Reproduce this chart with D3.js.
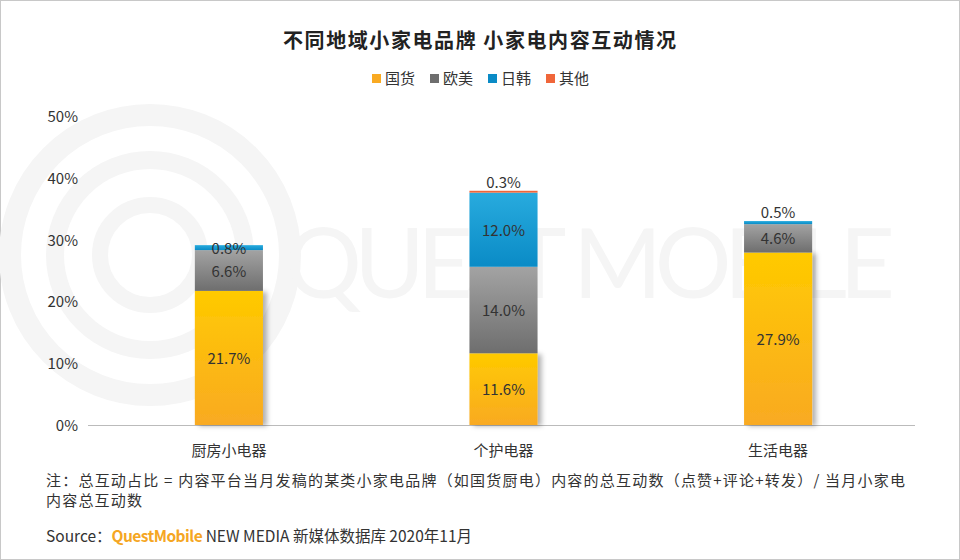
<!DOCTYPE html>
<html><head><meta charset="utf-8">
<script src="https://cdn.jsdelivr.net/npm/d3@7"></script>
<style>body{margin:0;background:#fff}svg{display:block;font-family:"Microsoft YaHei","Noto Sans CJK SC",sans-serif}</style>
</head><body><svg id="c" width="960" height="560"></svg>
<script>
// data
const categories = ["厨房小电器", "个护电器", "生活电器"]
const seriesNames = ["国货", "欧美", "日韩", "其他"]
const guohuo = [21.7, 11.6, 27.9]
const oumei = [6.6, 14.0, 4.6]
const rihan = [0.8, 12.0, 0.5]
const qita = [0, 0.3, 0]
const yTicks = [0, 10, 20, 30, 40, 50]

const svg = d3.select("#c")
svg.append("rect").attr("x", 0.5).attr("y", 0.5).attr("width", 959).attr("height", 559)
  .attr("fill", "#fff").attr("stroke", "#c8c8c8")

const defs = svg.append("defs")
const grads = [["#ffca00", "#f9aa22"], ["#a3a3a3", "#6e6e6e"], ["#28abde", "#0a8bc6"], ["#f0663a", "#f0663a"]]
grads.forEach((g, i) => {
  const lg = defs.append("linearGradient").attr("id", "g" + i).attr("x1", 0).attr("x2", 0).attr("y1", 0).attr("y2", 1)
  lg.append("stop").attr("offset", "0%").attr("stop-color", g[0])
  lg.append("stop").attr("offset", "100%").attr("stop-color", g[1])
})
const f = defs.append("filter").attr("id", "sh").attr("x", "-20%").attr("width", "150%")
f.append("feDropShadow").attr("dx", 4).attr("dy", 1).attr("stdDeviation", 2.5).attr("flood-color", "#000").attr("flood-opacity", 0.3)

// watermark
const wm = svg.append("g").attr("fill", "none").attr("stroke", "#f5f5f5")
;[[140, 22], [95, 18], [50, 16]].forEach(([r, w]) => wm.append("circle").attr("cx", 150).attr("cy", 255).attr("r", r).attr("stroke-width", w))
svg.append("text").attr("x", 285).attr("y", 298).attr("font-size", 96).attr("font-family", "Lato, sans-serif")
  .attr("font-weight", 400).attr("fill", "#f5f5f5").attr("textLength", 610).text("QUEST MOBILE")

svg.append("text").attr("x", 283).attr("y", 48).attr("font-size", 20).attr("textLength", 393)
  .attr("font-weight", 700).attr("fill", "#222").text("不同地域小家电品牌 小家电内容互动情况")

// legend
const lx = [372, 430, 488, 546]
seriesNames.forEach((s, i) => {
  svg.append("rect").attr("x", lx[i]).attr("y", 74).attr("width", 9).attr("height", 9).attr("fill", grads[i][1])
  svg.append("text").attr("x", lx[i] + 13).attr("y", 84).attr("font-size", 15).attr("fill", "#333").text(s)
})

const x = d3.scaleBand().domain(categories).range([85, 922]).paddingInner(0.752).paddingOuter(0.4)
const y = d3.scaleLinear().domain([0, 50]).range([425, 116])

svg.append("g").selectAll("text").data(yTicks).join("text")
  .attr("x", 78).attr("y", d => y(d) + 6).attr("text-anchor", "end").attr("font-size", 15).attr("fill", "#333")
  .text(d => d + "%")
svg.append("line").attr("x1", 88).attr("x2", 915).attr("y1", 425.5).attr("y2", 425.5).attr("stroke", "#bbb")
svg.append("g").selectAll("text").data(categories).join("text")
  .attr("x", d => x(d) + x.bandwidth() / 2).attr("y", 456).attr("text-anchor", "middle")
  .attr("font-size", 15).attr("fill", "#333").text(d => d)

const stackData = categories.map((c, i) => ({cat: c, s0: guohuo[i], s1: oumei[i], s2: rihan[i], s3: qita[i]}))
const stack = d3.stack().keys(["s0", "s1", "s2", "s3"])(stackData)

stack.forEach((layer, k) => {
  svg.append("g").selectAll("rect").data(layer).join("rect")
    .attr("x", d => x(d.data.cat)).attr("width", x.bandwidth())
    .attr("y", d => y(d[1])).attr("height", d => y(d[0]) - y(d[1]))
    .attr("fill", `url(#g${k})`).attr("filter", k === 0 ? "url(#sh)" : null)
})
stack.forEach((layer, k) => {
  layer.forEach(d => {
    const v = d[1] - d[0]
    if (v <= 0) return
    const cx = x(d.data.cat) + x.bandwidth() / 2
    let ty = (y(d[0]) + y(d[1])) / 2 + 6
    if (v < 0.6) ty = y(d[1]) - 3
    svg.append("text").attr("x", cx).attr("y", ty).attr("text-anchor", "middle")
      .attr("font-size", 15).attr("fill", "#333").text(v.toFixed(1) + "%")
  })
})

svg.append("text").attr("x", 46).attr("y", 486).attr("font-size", 15).attr("fill", "#333").attr("textLength", 859)
  .text("注：总互动占比 = 内容平台当月发稿的某类小家电品牌（如国货厨电）内容的总互动数（点赞+评论+转发）/ 当月小家电")
svg.append("text").attr("x", 46).attr("y", 506).attr("font-size", 15).attr("fill", "#333").attr("textLength", 96).text("内容总互动数")
const src = svg.append("text").attr("x", 46).attr("y", 542).attr("font-size", 15.5).attr("fill", "#333")
src.append("tspan").text("Source：")
src.append("tspan").attr("fill", "#f5a623").attr("font-weight", 700).attr("letter-spacing", -0.5).text("QuestMobile")
src.append("tspan").text(" NEW MEDIA 新媒体数据库 2020年11月")
</script></body></html>
